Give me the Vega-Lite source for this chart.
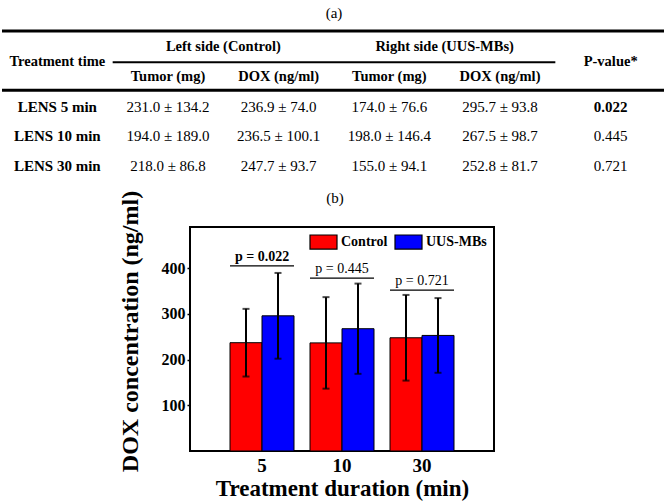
{
  "$schema": "https://vega.github.io/schema/vega-lite/v6.json",
  "padding": {"left": 0, "right": 0, "top": 5, "bottom": 0},
  "background": "white",
  "config": {
    "font": "Liberation Serif",
    "view": {"stroke": null},
    "title": {"color": "black", "fontWeight": "normal", "fontSize": 15, "font": "Liberation Serif"}
  },
  "datasets": {
    "lines": [
      {"x1": 0, "x2": 6, "y": -0.55, "kind": "thick"},
      {"x1": 1, "x2": 5, "y": 0.5, "kind": "thin"},
      {"x1": 0, "x2": 6, "y": 1.45, "kind": "thick"}
    ],
    "cells": [
      {"x": 2, "row": 0, "text": "Left side (Control)", "role": "head"},
      {"x": 4, "row": 0, "text": "Right side (UUS-MBs)", "role": "head"},
      {"x": 0.5, "row": 0.5, "text": "Treatment time", "role": "head"},
      {"x": 5.5, "row": 0.5, "text": "P-value*", "role": "head"},
      {"x": 1.5, "row": 1, "text": "Tumor (mg)", "role": "head"},
      {"x": 2.5, "row": 1, "text": "DOX (ng/ml)", "role": "head"},
      {"x": 3.5, "row": 1, "text": "Tumor (mg)", "role": "head"},
      {"x": 4.5, "row": 1, "text": "DOX (ng/ml)", "role": "head"},
      {"x": 0.5, "row": 2, "text": "LENS 5 min", "role": "label"},
      {"x": 1.5, "row": 2, "text": "231.0 ± 134.2", "role": "value"},
      {"x": 2.5, "row": 2, "text": "236.9 ± 74.0", "role": "value"},
      {"x": 3.5, "row": 2, "text": "174.0 ± 76.6", "role": "value"},
      {"x": 4.5, "row": 2, "text": "295.7 ± 93.8", "role": "value"},
      {"x": 5.5, "row": 2, "text": "0.022", "role": "label"},
      {"x": 0.5, "row": 3, "text": "LENS 10 min", "role": "label"},
      {"x": 1.5, "row": 3, "text": "194.0 ± 189.0", "role": "value"},
      {"x": 2.5, "row": 3, "text": "236.5 ± 100.1", "role": "value"},
      {"x": 3.5, "row": 3, "text": "198.0 ± 146.4", "role": "value"},
      {"x": 4.5, "row": 3, "text": "267.5 ± 98.7", "role": "value"},
      {"x": 5.5, "row": 3, "text": "0.445", "role": "value"},
      {"x": 0.5, "row": 4, "text": "LENS 30 min", "role": "label"},
      {"x": 1.5, "row": 4, "text": "218.0 ± 86.8", "role": "value"},
      {"x": 2.5, "row": 4, "text": "247.7 ± 93.7", "role": "value"},
      {"x": 3.5, "row": 4, "text": "155.0 ± 94.1", "role": "value"},
      {"x": 4.5, "row": 4, "text": "252.8 ± 81.7", "role": "value"},
      {"x": 5.5, "row": 4, "text": "0.721", "role": "value"}
    ],
    "dox": [
      {"duration": "5", "group": "Control", "mean": 236.9, "lo": 162.9, "hi": 310.9},
      {"duration": "5", "group": "UUS-MBs", "mean": 295.7, "lo": 201.9, "hi": 389.5},
      {"duration": "10", "group": "Control", "mean": 236.5, "lo": 136.4, "hi": 336.6},
      {"duration": "10", "group": "UUS-MBs", "mean": 267.5, "lo": 168.8, "hi": 366.2},
      {"duration": "30", "group": "Control", "mean": 247.7, "lo": 154.0, "hi": 341.4},
      {"duration": "30", "group": "UUS-MBs", "mean": 252.8, "lo": 171.1, "hi": 334.5}
    ],
    "pvals": [
      {"duration": "5", "line": 405, "label": "p = 0.022", "sig": "yes"},
      {"duration": "10", "line": 378, "label": "p = 0.445", "sig": "no"},
      {"duration": "30", "line": 352, "label": "p = 0.721", "sig": "no"}
    ]
  },
  "bounds": "flush",
  "spacing": 61,
  "resolve": {"scale": {"color": "independent"}, "legend": {"color": "independent"}},
  "vconcat": [
    {
      "width": 664,
      "height": 135,
      "title": {"text": "(a)", "offset": 9, "anchor": "middle"},
      "encoding": {
        "x": {"field": "x", "type": "quantitative", "scale": {"domain": [0, 6], "nice": false, "zero": false}, "axis": null},
        "y": {"field": "row", "type": "quantitative", "scale": {"domain": [-0.55, 4], "reverse": true, "nice": false, "zero": false}, "axis": null}
      },
      "layer": [
        {
          "data": {"name": "lines"},
          "transform": [{"filter": "datum.kind === 'thick'"}],
          "mark": {"type": "rule", "color": "black", "strokeWidth": 3},
          "encoding": {
            "x": {"field": "x1", "type": "quantitative", "scale": {"domain": [0, 6], "nice": false, "zero": false}, "axis": null},
            "x2": {"field": "x2"},
            "y": {"field": "y", "type": "quantitative", "scale": {"domain": [-0.55, 4], "reverse": true, "nice": false, "zero": false}, "axis": null}
          }
        },
        {
          "data": {"name": "lines"},
          "transform": [{"filter": "datum.kind === 'thin'"}],
          "mark": {"type": "rule", "color": "black", "strokeWidth": 2},
          "encoding": {
            "x": {"field": "x1", "type": "quantitative", "scale": {"domain": [0, 6], "nice": false, "zero": false}, "axis": null},
            "x2": {"field": "x2"},
            "y": {"field": "y", "type": "quantitative", "scale": {"domain": [-0.55, 4], "reverse": true, "nice": false, "zero": false}, "axis": null}
          }
        },
        {
          "data": {"name": "cells"},
          "transform": [{"filter": "datum.role === 'head'"}],
          "mark": {"type": "text", "fontSize": 14.5, "fontWeight": "bold", "color": "black", "baseline": "middle"},
          "encoding": {"text": {"field": "text"}}
        },
        {
          "data": {"name": "cells"},
          "transform": [{"filter": "datum.role === 'label'"}],
          "mark": {"type": "text", "fontSize": 15, "fontWeight": "bold", "color": "black", "baseline": "middle"},
          "encoding": {"text": {"field": "text"}}
        },
        {
          "data": {"name": "cells"},
          "transform": [{"filter": "datum.role === 'value'"}],
          "mark": {"type": "text", "fontSize": 15, "fontWeight": "normal", "color": "black", "baseline": "middle"},
          "encoding": {"text": {"field": "text"}}
        }
      ]
    },
    {
      "bounds": "flush",
      "spacing": 20,
      "resolve": {"scale": {"color": "independent"}, "legend": {"color": "independent"}},
      "hconcat": [
        {
          "width": 168,
          "height": 224,
          "data": {"values": []},
          "mark": "point",
          "encoding": {}
        },
        {
          "width": 304,
          "height": 224,
          "view": {"stroke": "black", "strokeWidth": 2},
          "title": {"text": "(b)", "offset": -16, "dx": -7, "anchor": "middle", "frame": "group"},
          "encoding": {
            "x": {
              "field": "duration", "type": "nominal", "sort": ["5", "10", "30"],
              "scale": {"paddingInner": 0.2, "paddingOuter": 0.5},
              "axis": {
                "title": "Treatment duration (min)", "titleFontSize": 23, "titleFontWeight": "bold", "titleColor": "black", "titlePadding": 2,
                "labelAngle": 0, "labelFontSize": 19, "labelFontWeight": "bold", "labelColor": "black", "labelPadding": 5,
                "ticks": false, "domain": false, "grid": false
              }
            },
            "y": {
              "field": "mean", "type": "quantitative",
              "scale": {"domain": [0, 490], "nice": false},
              "axis": {
                "title": "DOX concentration (ng/ml)", "titleFontSize": 24, "titleFontWeight": "bold", "titleColor": "black", "titlePadding": 19, "titleY": 104,
                "values": [100, 200, 300, 400], "labelFontSize": 16, "labelFontWeight": "bold", "labelColor": "black", "labelPadding": 2,
                "tickSize": 3, "tickWidth": 1.5, "tickColor": "black", "domain": false, "grid": false
              }
            }
          },
          "layer": [
            {
              "data": {"name": "dox"},
              "mark": {"type": "bar", "stroke": "black", "strokeWidth": 1},
              "encoding": {
                "xOffset": {"field": "group", "type": "nominal", "sort": ["Control", "UUS-MBs"], "scale": {"paddingInner": 0, "paddingOuter": 0}},
                "color": {
                  "field": "group", "type": "nominal",
                  "scale": {"domain": ["Control", "UUS-MBs"], "range": ["#ff0000", "#0000ff"]},
                  "legend": {
                    "orient": "none", "legendX": 119, "legendY": 0.5, "direction": "horizontal", "title": null,
                    "symbolType": "M-1,-0.52H1V0.52H-1Z", "symbolSize": 729,
                    "symbolStrokeColor": "black", "symbolStrokeWidth": 1.2, "symbolOpacity": 1,
                    "labelFontSize": 14, "labelFontWeight": "bold", "labelColor": "black",
                    "labelOffset": 3, "columnPadding": 4, "padding": 0
                  }
                }
              }
            },
            {
              "data": {"name": "dox"},
              "mark": {"type": "rule", "color": "black", "strokeWidth": 2},
              "encoding": {
                "xOffset": {"field": "group", "type": "nominal", "sort": ["Control", "UUS-MBs"]},
                "y": {"field": "lo", "type": "quantitative"},
                "y2": {"field": "hi"}
              }
            },
            {
              "data": {"name": "dox"},
              "mark": {"type": "tick", "color": "black", "size": 7, "thickness": 2},
              "encoding": {
                "xOffset": {"field": "group", "type": "nominal", "sort": ["Control", "UUS-MBs"]},
                "y": {"field": "lo", "type": "quantitative"}
              }
            },
            {
              "data": {"name": "dox"},
              "mark": {"type": "tick", "color": "black", "size": 7, "thickness": 2},
              "encoding": {
                "xOffset": {"field": "group", "type": "nominal", "sort": ["Control", "UUS-MBs"]},
                "y": {"field": "hi", "type": "quantitative"}
              }
            },
            {
              "data": {"name": "pvals"},
              "mark": {"type": "bar", "fillOpacity": 0, "stroke": "black", "strokeWidth": 1.2},
              "encoding": {
                "y": {"field": "line", "type": "quantitative"},
                "y2": {"field": "line"}
              }
            },
            {
              "data": {"name": "pvals"},
              "transform": [{"filter": "datum.sig === 'yes'"}],
              "mark": {"type": "text", "fontSize": 14, "fontWeight": "bold", "color": "black", "baseline": "bottom", "dy": -2},
              "encoding": {
                "y": {"field": "line", "type": "quantitative"},
                "text": {"field": "label"}
              }
            },
            {
              "data": {"name": "pvals"},
              "transform": [{"filter": "datum.sig === 'no'"}],
              "mark": {"type": "text", "fontSize": 14, "fontWeight": "normal", "color": "black", "baseline": "bottom", "dy": -2},
              "encoding": {
                "y": {"field": "line", "type": "quantitative"},
                "text": {"field": "label"}
              }
            }
          ]
        }
      ]
    }
  ]
}
